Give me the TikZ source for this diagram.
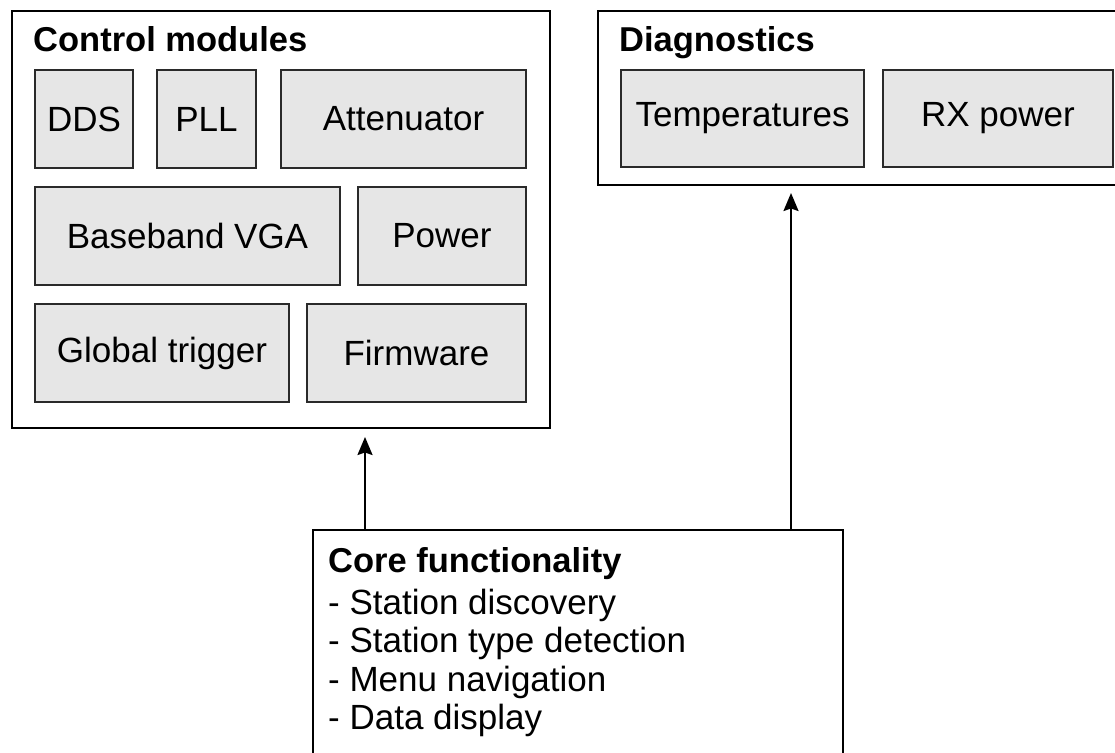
\documentclass[tikz,border=0pt]{standalone}
\usepackage{fontspec}
\setmainfont{Liberation Sans}
\usetikzlibrary{arrows.meta}
\definecolor{boxfill}{HTML}{E6E6E6}
\definecolor{boxline}{HTML}{2A2A2A}
\tikzset{
  outerbox/.style={draw=black, line width=2pt, fill=white, inner sep=0pt, outer sep=0pt, anchor=north west},
  innerbox/.style={draw=boxline, line width=1.6pt, fill=boxfill, inner sep=0pt, outer sep=0pt, anchor=north west, font=\fontsize{35}{38}\selectfont},
  titletext/.style={anchor=base west, inner sep=0pt, font=\fontsize{34.5}{38}\selectfont\bfseries},
  bodytext/.style={anchor=base west, inner sep=0pt, font=\fontsize{35}{38}\selectfont},
  arr/.style={line width=2pt, -{Stealth[length=18pt, width=15pt, inset=2.5pt]}}
}
\begin{document}
\begin{tikzpicture}[x=1pt, y=-1pt]
\useasboundingbox (0,0) rectangle (1115,752);
\clip (0,0) rectangle (1115,752);
% outer boxes
\node[outerbox, minimum width=538pt, minimum height=417pt] (ctrl) at (12,11) {};
\node[outerbox, minimum width=538pt, minimum height=174pt] (diag) at (598,11) {};
\node[outerbox, minimum width=530pt, minimum height=300pt] (core) at (313,530) {};
% titles
\node[titletext] (ctrltitle) at (33,52) {Control modules};
\node[titletext] (diagtitle) at (619,52) {Diagnostics};
\node[titletext] (coretitle) at (328,572) {Core functionality};
% control modules
\node[innerbox, minimum width=98pt, minimum height=98pt] (dds) at (35,70) {DDS};
\node[innerbox, minimum width=99pt, minimum height=98pt] (pll) at (157,70) {PLL};
\node[innerbox, minimum width=245pt, minimum height=98pt] (att) at (281,70) {Attenuator};
\node[innerbox, minimum width=305pt, minimum height=98pt] (bvga) at (35,187) {Baseband VGA};
\node[innerbox, minimum width=168pt, minimum height=98pt] (power) at (358,187) {Power};
\node[innerbox, minimum width=254pt, minimum height=98pt] (gtrig) at (35,304) {Global trigger};
\node[innerbox, minimum width=219pt, minimum height=98pt] (firm) at (307,304) {Firmware};
% diagnostics
\node[innerbox, minimum width=243pt, minimum height=97pt] (temp) at (621,70) {Temperatures};
\node[innerbox, minimum width=230pt, minimum height=97pt] (rx) at (883,70) {RX power};
% core functionality list
\node[bodytext] (l1) at (328,614) {- Station discovery};
\node[bodytext] (l2) at (328,652) {- Station type detection};
\node[bodytext] (l3) at (328,691) {- Menu navigation};
\node[bodytext] (l4) at (328,729) {- Data display};
% connectors
\coordinate (ax1) at (365,0);
\coordinate (ax2) at (791,0);
\draw[arr, shorten >=9pt] (core.north -| ax1) -- (ctrl.south -| ax1);
\draw[arr, shorten >=8pt] (core.north -| ax2) -- (diag.south -| ax2);
\end{tikzpicture}
\end{document}
